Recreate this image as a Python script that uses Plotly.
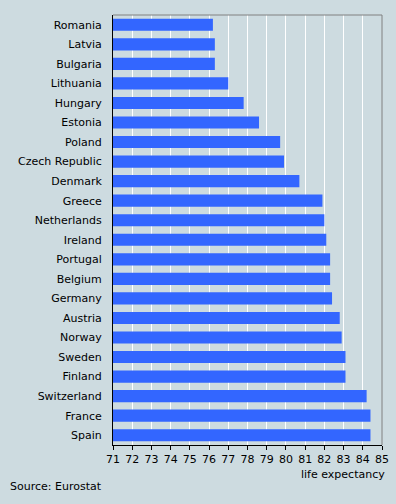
import plotly.graph_objects as go

countries = ["Romania", "Latvia", "Bulgaria", "Lithuania", "Hungary", "Estonia",
             "Poland", "Czech Republic", "Denmark", "Greece", "Netherlands",
             "Ireland", "Portugal", "Belgium", "Germany", "Austria", "Norway",
             "Sweden", "Finland", "Switzerland", "France", "Spain"]
life_expectancy = [76.2, 76.3, 76.3, 77.0, 77.8, 78.6, 79.7, 79.9, 80.7, 81.9, 82.0,
                   82.1, 82.3, 82.3, 82.4, 82.8, 82.9, 83.1, 83.1, 84.2, 84.4, 84.4]
x_ticks = list(range(71, 86))
axis_start = 71

bg = "#CDDBE0"
font = dict(family="DejaVu Sans, Verdana, sans-serif", size=11, color="black")

fig = go.Figure(go.Bar(
    x=[v - axis_start for v in life_expectancy], y=countries, orientation="h",
    base=axis_start,
    marker=dict(color="#3366FF", line=dict(width=0)),
    width=0.62,
    hovertext=[str(v) for v in life_expectancy],
))

fig.update_layout(
    width=396, height=504,
    paper_bgcolor=bg, plot_bgcolor=bg,
    margin=dict(l=113, r=14, t=15, b=59, autoexpand=False),
    font=font,
    showlegend=False,
    xaxis=dict(range=[71, 85], tickvals=x_ticks, ticktext=[str(t) for t in x_ticks],
               showgrid=True, gridcolor="white", gridwidth=1,
               showline=True, linecolor="black", linewidth=1,
               ticks="outside", ticklen=4, tickcolor="black",
               zeroline=False, fixedrange=True, tickfont=font),
    yaxis=dict(autorange="reversed", showgrid=False, showline=True,
               linecolor="black", linewidth=1, ticks="", ticklabelstandoff=8,
               tickfont=font, fixedrange=True),
    shapes=[
        dict(type="line", xref="paper", yref="paper", x0=0, x1=1, y0=1, y1=1,
             line=dict(color="#808080", width=1)),
        dict(type="line", xref="paper", yref="paper", x0=1, x1=1, y0=0, y1=1,
             line=dict(color="#808080", width=1)),
    ],
    annotations=[
        dict(text="life expectancy", xref="paper", yref="paper", x=1.019, y=-0.048,
             xanchor="right", yanchor="top", showarrow=False, font=font),
        dict(text="Source: Eurostat", xref="paper", yref="paper", x=-0.39, y=-0.077,
             xanchor="left", yanchor="top", showarrow=False, font=font),
    ],
)

fig.write_html("out.html",
               config={"displayModeBar": False},
               post_script="document.body.style.margin='0';document.body.style.background='#CDDBE0';")
